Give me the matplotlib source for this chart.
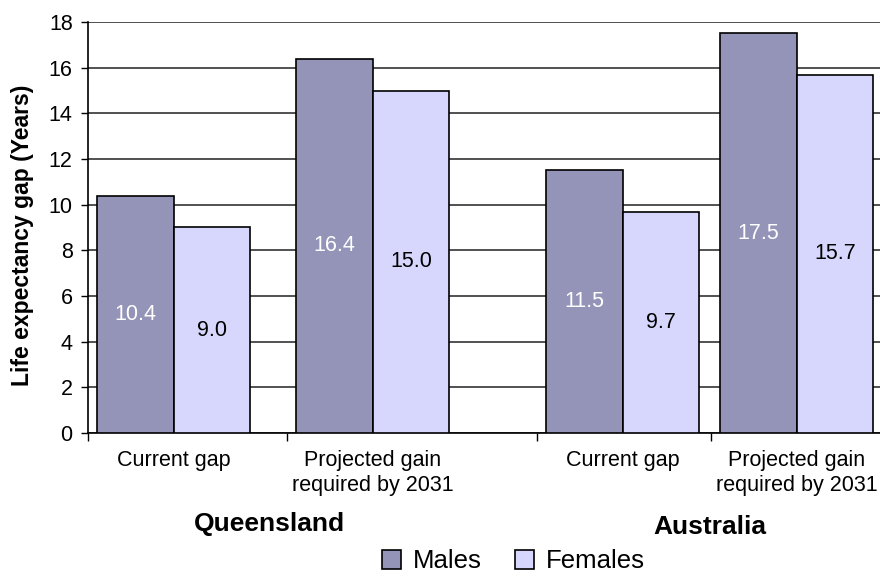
import matplotlib.pyplot as plt
import numpy as np

plt.rcParams['font.family'] = ['Liberation Sans', 'DejaVu Sans']

# data
categories = ['Current gap', 'Projected gain\nrequired by 2031',
              'Current gap', 'Projected gain\nrequired by 2031']
regions = ['Queensland', 'Australia']
males = [10.4, 16.4, 11.5, 17.5]
females = [9.0, 15.0, 9.7, 15.7]
series = ['Males', 'Females']

# layout (category slot left edges, in bar widths)
slot_left = np.array([0.0, 2.6, 5.87, 8.14])
bar_w = 1.0
pad = 0.12

male_color = '#9494B8'
female_color = '#D7D7FD'

fig = plt.figure(figsize=(8.8, 5.75), dpi=100)
ax = fig.add_axes([0.1, 0.247, 0.9, 0.7147])

x_m = slot_left + pad
x_f = x_m + bar_w

bm = ax.bar(x_m, males, width=bar_w, align='edge', color=male_color,
            edgecolor='black', linewidth=1.2, zorder=3, label=series[0])
bf = ax.bar(x_f, females, width=bar_w, align='edge', color=female_color,
            edgecolor='black', linewidth=1.2, zorder=3, label=series[1])

for bar in bm:
    h = bar.get_height()
    ax.text(bar.get_x() + bar.get_width() / 2, h / 2, f'{h:.1f}',
            ha='center', va='center', color='white', fontsize=15.5, zorder=4)
for bar in bf:
    h = bar.get_height()
    ax.text(bar.get_x() + bar.get_width() / 2, h / 2, f'{h:.1f}',
            ha='center', va='center', color='black', fontsize=15.5, zorder=4)

ax.set_xlim(0, 10.35)
ax.set_ylim(0, 18)
ax.set_yticks(np.arange(0, 19, 2))
ax.tick_params(axis='y', labelsize=15.5, length=5, width=1, direction='out', pad=6)
ax.yaxis.grid(True, color='#333333', linewidth=1.2, zorder=0)
ax.set_axisbelow(True)

ax.set_xticks(slot_left)
ax.set_xticklabels([])
ax.tick_params(axis='x', length=6, width=1, direction='out')

for s in ['top', 'right']:
    ax.spines[s].set_visible(False)
ax.spines['left'].set_linewidth(1.2)
ax.spines['bottom'].set_linewidth(1.2)

ax.set_ylabel('Life expectancy gap (Years)', fontsize=16.5, fontweight='bold')
ax.yaxis.set_label_coords(-0.068, 0.48)

# category labels
for xm, lab in zip(x_m, categories):
    ax.text(xm + bar_w, -0.75, lab, ha='center', va='top', fontsize=15.5,
            linespacing=1.25, clip_on=False)

# region labels
centers = [(x_m[0] + x_f[1] + bar_w) / 2 - 0.05, (x_m[2] + x_f[3] + bar_w) / 2]
ax.text(centers[0], -4.0, regions[0], ha='center', va='center', fontsize=19,
        fontweight='bold', clip_on=False)
ax.text(centers[1], -4.1, regions[1], ha='center', va='center', fontsize=19,
        fontweight='bold', clip_on=False)

leg = fig.legend(handles=[bm, bf], labels=series, loc='center',
                 bbox_to_anchor=(0.583, 0.024), ncol=2, frameon=False,
                 fontsize=18.5, handlelength=0.75, handleheight=0.75,
                 handletextpad=0.45, columnspacing=1.3, borderpad=0)

fig.savefig('out.png', dpi=100)
